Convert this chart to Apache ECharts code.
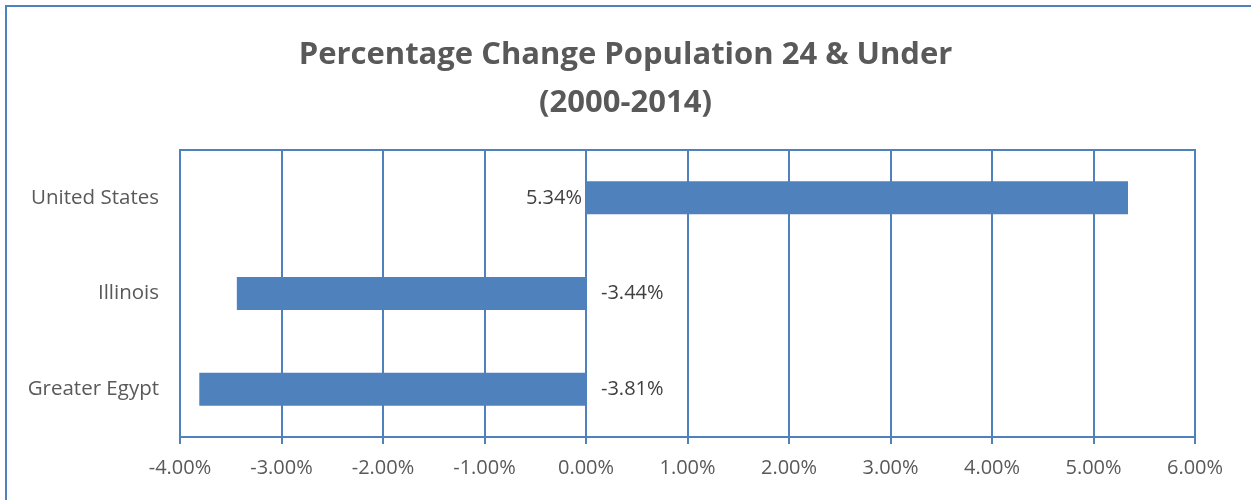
<!DOCTYPE html>
<html>
<head>
<meta charset="utf-8">
<script src="https://cdn.jsdelivr.net/npm/echarts@6/dist/echarts.min.js"></script>
<style>
  html, body { margin: 0; padding: 0; background: #fff; }
  #wrap { position: relative; width: 1251px; height: 500px; overflow: hidden; }
  #frame { position: absolute; left: 5px; top: 5px; width: 1300px; height: 600px; border: 2px solid #4f81bd; box-sizing: border-box; }
  #chart { position: absolute; left: 0; top: 0; width: 1251px; height: 500px; }
</style>
</head>
<body>
<div id="wrap">
  <div id="frame"></div>
  <div id="chart"></div>
</div>
<script>
// categories bottom -> top, as in the picture
var regions = ['Greater Egypt', 'Illinois', 'United States'];
var changePct = [-3.81, -3.44, 5.34];
var xTicks = [-4, -3, -2, -1, 0, 1, 2, 3, 4, 5, 6];

var blue = '#4f81bd';
var chart = echarts.init(document.getElementById('chart'));
var option = {
    animation: false,
    title: {
        text: 'Percentage Change Population 24 & Under\n(2000-2014)',
        left: 'center',
        top: 26,
        textStyle: {
            fontFamily: 'Open Sans',
            fontSize: 31,
            fontWeight: 'bold',
            color: '#595959',
            lineHeight: 48
        }
    },
    grid: {
        left: 180,
        right: 56,
        top: 150,
        bottom: 63,
        show: true,
        borderColor: blue,
        borderWidth: 2
    },
    xAxis: {
        type: 'value',
        min: xTicks[0],
        max: xTicks[xTicks.length - 1],
        interval: 1,
        axisLine: { show: true, lineStyle: { color: blue, width: 2 } },
        axisTick: { show: true, length: 7, lineStyle: { color: blue, width: 2 } },
        splitLine: { show: true, lineStyle: { color: blue, width: 2 } },
        axisLabel: {
            margin: 21,
            fontFamily: 'Open Sans',
            fontSize: 20,
            color: '#595959',
            formatter: function (v) { return v.toFixed(2) + '%'; }
        }
    },
    yAxis: {
        type: 'category',
        data: regions,
        axisLine: { show: true, lineStyle: { color: blue, width: 2 } },
        axisTick: { show: false },
        splitLine: { show: false },
        axisLabel: {
            margin: 21,
            fontFamily: 'Open Sans',
            fontSize: 20.5,
            color: '#595959'
        }
    },
    series: [
        {
            type: 'bar',
            data: changePct.map(function (v) {
                return {
                    value: v,
                    label: { position: v >= 0 ? 'left' : 'right', distance: v >= 0 ? 4 : 15 }
                };
            }),
            barWidth: 33,
            itemStyle: { color: blue },
            label: {
                show: true,
                fontFamily: 'Open Sans',
                fontSize: 20,
                color: '#404040',
                formatter: function (p) { return p.value.toFixed(2) + '%'; }
            }
        }
    ]
};
chart.setOption(option);
</script>
</body>
</html>
